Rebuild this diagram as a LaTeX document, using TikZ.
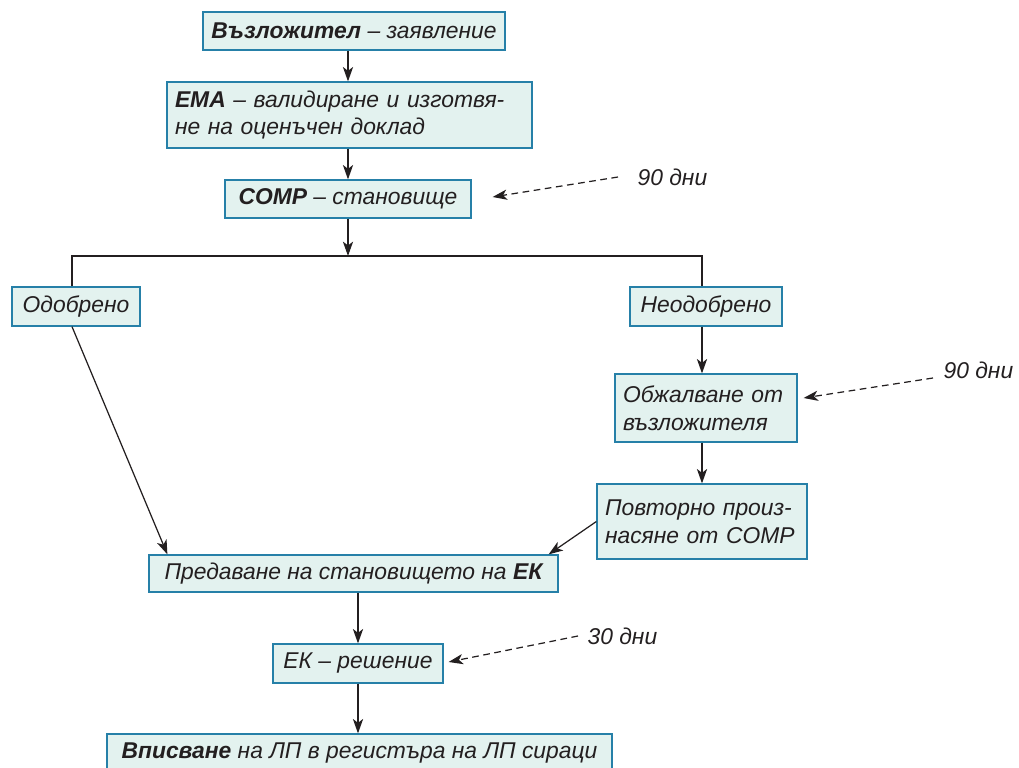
\documentclass[tikz,border=0pt]{standalone}
\usepackage{fontspec}
\setmainfont{Liberation Sans}
\usetikzlibrary{arrows.meta}
\definecolor{boxfill}{RGB}{227,242,239}
\definecolor{boxline}{RGB}{38,128,168}
\definecolor{ink}{RGB}{35,31,32}
\def\px{0.02cm}
\def\dto{\draw[->]}
\def\dwait{\draw[->,dash pattern=on 3.8pt off 2.6pt]}

\begin{document}
\begin{tikzpicture}[x=\px,y=-\px,line width=0.7pt,ink,
    font=\fontsize{13}{15.8}\selectfont\itshape,
    >={Stealth[length=8.2pt,width=5.8pt,inset=2.2pt]},
    box/.style 2 args={draw=boxline,fill=boxfill,text=ink,inner sep=0pt,
        minimum width=#1*\px,minimum height=#2*\px},
    lbl/.style={inner sep=0pt,anchor=west}]
\useasboundingbox (0,0) rectangle (1019,768);

\node[box={302}{38}] (zayav) at (354,31) {\textbf{Възложител} – заявление};
\node[box={365}{66},text width=349*\px,align=left] (ema) at (349.5,115)
    {\textbf{ЕМА} – валидиране и изготвя-\\не на оценъчен доклад};
\node[box={246}{38}] (comp) at (348,199) {\textbf{COMP} – становище};
\node[box={128}{39}] (odob) at (76,306.5) {Одобрено};
\node[box={152}{39}] (neodob) at (706,306.5) {Неодобрено};
\node[box={182}{68},text width=166*\px,align=left] (obzh) at (706,408)
    {Обжалване от\\възложителя};
\node[box={210}{75},text width=194*\px,align=left] (povt) at (702,521.5)
    {Повторно произ-\\насяне от COMP};
\node[box={409}{37}] (pred) at (353.5,573.5) {Предаване на становището на \textbf{ЕК}};
\node[box={170}{39}] (ekr) at (358,663.5) {ЕК – решение};
\node[box={505}{38}] (vpis) at (359.5,753) {\textbf{Вписване} на ЛП в регистъра на ЛП сираци};

\node[lbl] (w1) at (637,177) {90 дни};
\node[lbl] (w2) at (943,370) {90 дни};
\node[lbl] (w3) at (587,636) {30 дни};

% split after COMP
\coordinate (split) at (348,256);
\coordinate (sl) at (72,256);
\coordinate (sr) at (702,256);

\dto (zayav.south -| comp) -- (ema.north -| comp);
\dto (ema.south -| comp) -- (comp.north);
\dto (comp.south) -- (split);
\draw (sl |- odob.north) -- (sl) -- (sr) -- (sr |- neodob.north);
\dto (sl |- odob.south) -- ([shift={(19,0)}]pred.north west);
\dto (sr |- neodob.south) -- (sr |- obzh.north);
\dto (sr |- obzh.south) -- (sr |- povt.north);
\dto (povt.west) -- ([shift={(-10,0)}]pred.north east);
\dto (pred.south -| ekr) -- (ekr.north);
\dto (ekr.south) -- (ekr.south |- vpis.north);

\dwait ([shift={(-19,0)}]w1.west) -- ([shift={(21,-2)}]comp.east);
\dwait ([shift={(-10,8)}]w2.west) -- ([shift={(6,-10)}]obzh.east);
\dwait ([shift={(-9,0)}]w3.west) -- ([shift={(5,-1.5)}]ekr.east);
\end{tikzpicture}
\end{document}
